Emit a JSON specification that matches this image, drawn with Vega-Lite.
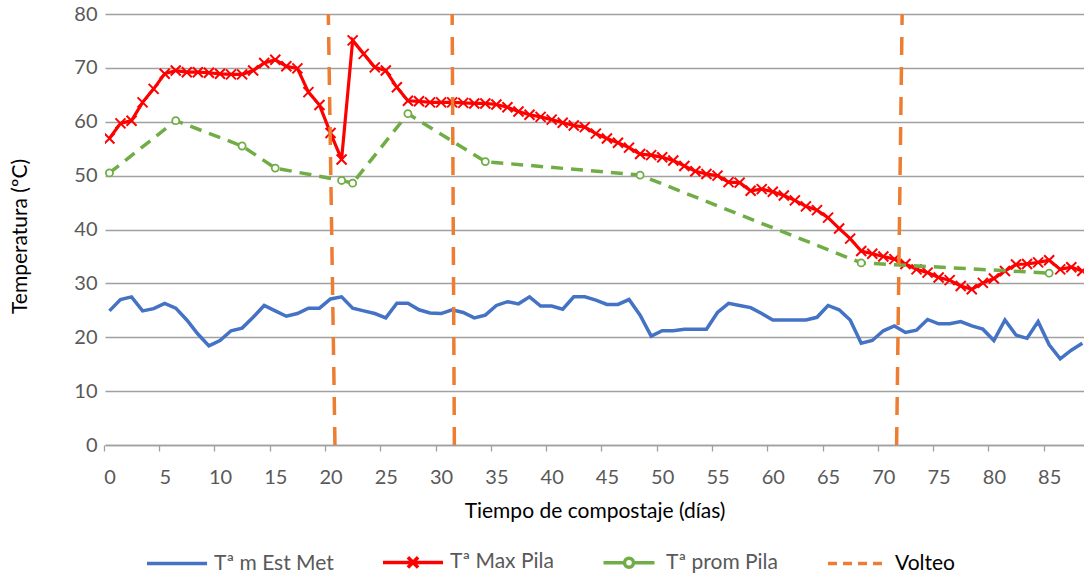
{
  "$schema": "https://vega.github.io/schema/vega-lite/v6.json",
  "width": 979,
  "height": 431,
  "autosize": {"type": "none"},
  "padding": {"left": 105, "top": 14, "right": 0, "bottom": 131},
  "background": "white",
  "config": {
    "view": {"stroke": null},
    "font": "Lato",
    "axis": {"labelFont": "Lato", "titleFont": "Lato"},
    "legend": {"labelFont": "Lato"}
  },
  "datasets": {
    "met": [
      {"dia":0,"temp":24.9},{"dia":1,"temp":27.0},{"dia":2,"temp":27.5},{"dia":3,"temp":24.9},{"dia":4,"temp":25.3},
      {"dia":5,"temp":26.3},{"dia":6,"temp":25.4},{"dia":7,"temp":23.2},{"dia":8,"temp":20.6},{"dia":9,"temp":18.4},
      {"dia":10,"temp":19.4},{"dia":11,"temp":21.2},{"dia":12,"temp":21.7},{"dia":13,"temp":23.7},{"dia":14,"temp":25.9},
      {"dia":15,"temp":24.9},{"dia":16,"temp":23.9},{"dia":17,"temp":24.4},{"dia":18,"temp":25.4},{"dia":19,"temp":25.4},
      {"dia":20,"temp":27.1},{"dia":21,"temp":27.5},{"dia":22,"temp":25.4},{"dia":23,"temp":24.9},{"dia":24,"temp":24.4},
      {"dia":25,"temp":23.6},{"dia":26,"temp":26.3},{"dia":27,"temp":26.3},{"dia":28,"temp":25.1},{"dia":29,"temp":24.5},
      {"dia":30,"temp":24.4},{"dia":31,"temp":25.1},{"dia":32,"temp":24.6},{"dia":33,"temp":23.6},{"dia":34,"temp":24.1},
      {"dia":35,"temp":25.9},{"dia":36,"temp":26.6},{"dia":37,"temp":26.2},{"dia":38,"temp":27.5},{"dia":39,"temp":25.8},
      {"dia":40,"temp":25.8},{"dia":41,"temp":25.2},{"dia":42,"temp":27.5},{"dia":43,"temp":27.5},{"dia":44,"temp":26.9},
      {"dia":45,"temp":26.1},{"dia":46,"temp":26.1},{"dia":47,"temp":27.0},{"dia":48,"temp":24.1},{"dia":49,"temp":20.2},
      {"dia":50,"temp":21.2},{"dia":51,"temp":21.2},{"dia":52,"temp":21.5},{"dia":53,"temp":21.5},{"dia":54,"temp":21.5},
      {"dia":55,"temp":24.6},{"dia":56,"temp":26.3},{"dia":57,"temp":25.9},{"dia":58,"temp":25.5},{"dia":59,"temp":24.4},
      {"dia":60,"temp":23.2},{"dia":61,"temp":23.2},{"dia":62,"temp":23.2},{"dia":63,"temp":23.2},{"dia":64,"temp":23.7},
      {"dia":65,"temp":25.9},{"dia":66,"temp":25.1},{"dia":67,"temp":23.2},{"dia":68,"temp":18.9},{"dia":69,"temp":19.4},
      {"dia":70,"temp":21.2},{"dia":71,"temp":22.1},{"dia":72,"temp":20.9},{"dia":73,"temp":21.3},{"dia":74,"temp":23.3},
      {"dia":75,"temp":22.5},{"dia":76,"temp":22.5},{"dia":77,"temp":22.9},{"dia":78,"temp":22.1},{"dia":79,"temp":21.5},
      {"dia":80,"temp":19.4},{"dia":81,"temp":23.2},{"dia":82,"temp":20.4},{"dia":83,"temp":19.8},{"dia":84,"temp":22.9},
      {"dia":85,"temp":18.6},{"dia":86,"temp":16.0},{"dia":87,"temp":17.6},{"dia":88,"temp":18.9}
    ],
    "max": [
      {"dia":0,"temp":56.9},{"dia":1,"temp":59.7},{"dia":2,"temp":60.2},{"dia":3,"temp":63.6},{"dia":4,"temp":66.1},
      {"dia":5,"temp":68.9},{"dia":6,"temp":69.5},{"dia":7,"temp":69.2},{"dia":8,"temp":69.2},{"dia":9,"temp":69.1},
      {"dia":10,"temp":68.9},{"dia":11,"temp":68.8},{"dia":12,"temp":68.8},{"dia":13,"temp":69.5},{"dia":14,"temp":70.9},
      {"dia":15,"temp":71.5},{"dia":16,"temp":70.3},{"dia":17,"temp":69.9},{"dia":18,"temp":65.5},{"dia":19,"temp":63.1},
      {"dia":20,"temp":57.9},{"dia":21,"temp":53.0},{"dia":22,"temp":75.1},{"dia":23,"temp":72.6},{"dia":24,"temp":70.1},
      {"dia":25,"temp":69.5},{"dia":26,"temp":66.4},{"dia":27,"temp":63.9},{"dia":28,"temp":63.8},{"dia":29,"temp":63.6},
      {"dia":30,"temp":63.6},{"dia":31,"temp":63.6},{"dia":32,"temp":63.5},{"dia":33,"temp":63.4},{"dia":34,"temp":63.4},
      {"dia":35,"temp":63.2},{"dia":36,"temp":62.7},{"dia":37,"temp":61.9},{"dia":38,"temp":61.3},{"dia":39,"temp":60.9},
      {"dia":40,"temp":60.4},{"dia":41,"temp":59.8},{"dia":42,"temp":59.3},{"dia":43,"temp":59.0},{"dia":44,"temp":57.8},
      {"dia":45,"temp":56.9},{"dia":46,"temp":56.1},{"dia":47,"temp":55.2},{"dia":48,"temp":54.0},{"dia":49,"temp":53.8},
      {"dia":50,"temp":53.4},{"dia":51,"temp":52.8},{"dia":52,"temp":51.8},{"dia":53,"temp":50.8},{"dia":54,"temp":50.3},
      {"dia":55,"temp":50.0},{"dia":56,"temp":48.8},{"dia":57,"temp":48.7},{"dia":58,"temp":47.2},{"dia":59,"temp":47.5},
      {"dia":60,"temp":47.0},{"dia":61,"temp":46.3},{"dia":62,"temp":45.4},{"dia":63,"temp":44.3},{"dia":64,"temp":43.6},
      {"dia":65,"temp":42.2},{"dia":66,"temp":40.2},{"dia":67,"temp":38.3},{"dia":68,"temp":36.0},{"dia":69,"temp":35.5},
      {"dia":70,"temp":35.0},{"dia":71,"temp":34.5},{"dia":72,"temp":33.6},{"dia":73,"temp":32.6},{"dia":74,"temp":32.0},
      {"dia":75,"temp":31.1},{"dia":76,"temp":30.6},{"dia":77,"temp":29.5},{"dia":78,"temp":28.9},{"dia":79,"temp":30.1},
      {"dia":80,"temp":30.9},{"dia":81,"temp":32.3},{"dia":82,"temp":33.5},{"dia":83,"temp":33.6},{"dia":84,"temp":33.9},
      {"dia":85,"temp":34.3},{"dia":86,"temp":32.6},{"dia":87,"temp":33.0},{"dia":88,"temp":32.3}
    ],
    "prom": [
      {"dia":0,"temp":50.5},{"dia":6,"temp":60.2},{"dia":12,"temp":55.5},{"dia":15,"temp":51.4},
      {"dia":21,"temp":49.1},{"dia":22,"temp":48.6},{"dia":27,"temp":61.5},{"dia":34,"temp":52.6},
      {"dia":48,"temp":50.1},{"dia":68,"temp":33.8},{"dia":85,"temp":31.9}
    ],
    "volteo": [
      {"dia":20.4,"dia2":19.8},
      {"dia":31.2,"dia2":31.0},
      {"dia":71.2,"dia2":71.7}
    ]
  },
  "layer": [
    {
      "data": {"name": "met"},
      "mark": {"type": "line", "strokeWidth": 3.5, "clip": true},
      "encoding": {
        "x": {
          "field": "dia", "type": "quantitative",
          "scale": {"domain": [-0.4, 88.15], "nice": false, "zero": false},
          "axis": {
            "values": [0,5,10,15,20,25,30,35,40,45,50,55,60,65,70,75,80,85],
            "grid": false,
            "tickOffset": -5.5, "labelOffset": 5.5,
            "tickSize": 6, "tickColor": "#a0a0a0", "tickWidth": 1.3,
            "domainColor": "#a0a0a0", "domainWidth": 1.5,
            "labelFontSize": 20, "labelColor": "#595959", "labelPadding": 16,
            "labelFlush": false, "labelOverlap": false,
            "title": "Tiempo de compostaje (días)",
            "titleFontSize": 21, "titleColor": "#000000", "titleFontWeight": "normal",
            "titleY": 66, "titleBaseline": "middle"
          }
        },
        "y": {
          "field": "temp", "type": "quantitative",
          "scale": {"domain": [0, 80], "nice": false},
          "axis": {
            "values": [0,10,20,30,40,50,60,70,80],
            "grid": true, "gridColor": "#a0a0a0", "gridWidth": 1.3,
            "domain": false, "ticks": false,
            "labelFontSize": 20, "labelColor": "#595959", "labelPadding": 8,
            "title": "Temperatura (ºC)",
            "titleFontSize": 21, "titleColor": "#000000", "titleFontWeight": "normal",
            "titleX": -85, "titleY": 222, "titleAngle": 270,
            "titleAlign": "center", "titleBaseline": "middle"
          }
        },
        "color": {
          "datum": "Tª m Est Met",
          "type": "nominal",
          "scale": {
            "domain": ["Tª m Est Met", "Tª Max Pila", "Tª prom Pila", "Volteo"],
            "range": ["#4472c4", "#ff0000", "#70ad47", "#ed7d31"]
          },
          "legend": {
            "title": null,
            "orient": "none",
            "legendX": 40,
            "legendY": 516,
            "direction": "horizontal",
            "symbolType": "M-1,0H1",
            "symbolSize": 3600,
            "symbolStrokeWidth": 3.5,
            "labelFontSize": 21,
            "labelColor": "#595959",
            "labelOffset": 5,
            "columnPadding": 42,
            "labelLimit": 300,
            "encode": {
              "symbols": {
                "update": {
                  "shape": {"signal": "datum.value === 'Tª Max Pila' ? 'M-1,0H1M-0.17,-0.17L0.17,0.17M-0.17,0.17L0.17,-0.17' : (datum.value === 'Tª prom Pila' ? 'M-0.85,0H-0.2M0.2,0H0.85M0.15,0A0.15,0.15,0,1,1,-0.15,0A0.15,0.15,0,1,1,0.15,0' : 'M-1,0H1')"},
                  "strokeDash": {"signal": "datum.value === 'Volteo' ? [9,6] : null"},
                  "fill": {"value": "white"},
                  "strokeWidth": {"value": 3.5}
                }
              },
              "labels": {
                "update": {
                  "fill": {"signal": "datum.value === 'Volteo' ? '#000000' : '#595959'"}
                }
              }
            }
          }
        }
      }
    },
    {
      "data": {"name": "max"},
      "mark": {"type": "line", "strokeWidth": 3.2, "clip": true},
      "encoding": {
        "x": {"field": "dia", "type": "quantitative"},
        "y": {"field": "temp", "type": "quantitative"},
        "color": {"datum": "Tª Max Pila", "type": "nominal"}
      }
    },
    {
      "data": {"name": "max"},
      "mark": {"type": "point", "shape": "M-1,-1L1,1M-1,1L1,-1", "size": 100, "filled": false, "stroke": "#ff0000", "strokeWidth": 2, "opacity": 1, "clip": true},
      "encoding": {
        "x": {"field": "dia", "type": "quantitative"},
        "y": {"field": "temp", "type": "quantitative"}
      }
    },
    {
      "data": {"name": "prom"},
      "mark": {"type": "line", "strokeWidth": 3.5, "strokeDash": [12, 8], "clip": true},
      "encoding": {
        "x": {"field": "dia", "type": "quantitative"},
        "y": {"field": "temp", "type": "quantitative"},
        "color": {"datum": "Tª prom Pila", "type": "nominal"}
      }
    },
    {
      "data": {"name": "prom"},
      "mark": {"type": "point", "shape": "circle", "size": 50, "filled": true, "fill": "white", "stroke": "#70ad47", "strokeWidth": 1.8, "opacity": 1, "clip": true},
      "encoding": {
        "x": {"field": "dia", "type": "quantitative"},
        "y": {"field": "temp", "type": "quantitative"}
      }
    },
    {
      "data": {"name": "volteo"},
      "mark": {"type": "rule", "strokeWidth": 3.5, "strokeDash": [18, 12]},
      "encoding": {
        "x": {"field": "dia", "type": "quantitative"},
        "x2": {"field": "dia2"},
        "y": {"datum": 0},
        "y2": {"datum": 80},
        "color": {"datum": "Volteo", "type": "nominal"}
      }
    }
  ]
}
